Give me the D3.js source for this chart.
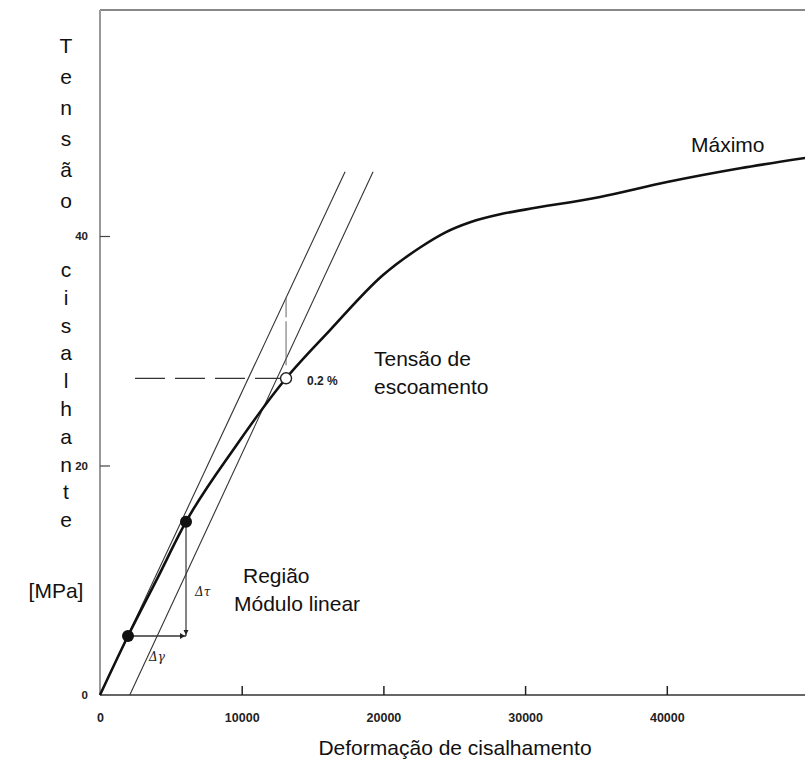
<!DOCTYPE html>
<html><head><meta charset="utf-8">
<script src="https://cdn.jsdelivr.net/npm/d3@7"></script>
<style>body{margin:0;background:#fff}svg{display:block}</style>
</head><body>
<svg id="c" width="805" height="760"></svg>
<script>
// ---- data ----
const xTicks = [0, 10000, 20000, 30000, 40000];
const yTicks = [0, 20, 40];
const curveX = [0, 1976, 4020, 6070, 9530, 13130, 16235, 19975, 22590, 24350, 26120, 28235, 30000, 35290, 40020, 45175, 49760];
const curveY = [0, 5.14, 10.1, 15.1, 21.6, 27.6, 31.8, 36.6, 39.0, 40.3, 41.2, 41.9, 42.3, 43.4, 44.7, 45.9, 46.8];
const tangentX = [0, 17295];
const tangentY = [0, 45.6];
const offsetX = [2100, 19270];
const offsetY = [0, 45.6];
const dotsX = [1976, 6070];
const dotsY = [5.14, 15.1];
const yieldPt = [13130, 27.6];
const yieldLineStartX = 2470;
const word1 = ["T","e","n","s","ã","o"];
const word2 = ["c","i","s","a","l","h","a","n","t","e"];

const svg = d3.select("#c");
const x = d3.scaleLinear().domain([0, 50000]).range([100, 808.5]);
const y = d3.scaleLinear().domain([0, 40]).range([695, 236]);
const plotTop = 10;
const FONT = "Liberation Sans, Arial, sans-serif";

// frame
svg.append("line").attr("x1",100).attr("x2",805).attr("y1",plotTop).attr("y2",plotTop)
  .attr("stroke","#888").attr("stroke-width",2);
svg.append("line").attr("x1",100).attr("x2",100).attr("y1",plotTop).attr("y2",y(0))
  .attr("stroke","#999").attr("stroke-width",2);

// x axis
const xa = svg.append("g").attr("transform",`translate(0,${y(0)})`)
  .call(d3.axisBottom(x).tickValues(xTicks).tickSize(-9).tickPadding(18).tickFormat(d3.format("d")));
xa.select(".domain").attr("stroke","#333").attr("stroke-width",1.6).attr("d",`M100,0H805`);
xa.selectAll(".tick line").attr("stroke","#222").attr("stroke-width",1.5);
xa.selectAll(".tick").filter(d=>d===0).select("line").remove();
xa.selectAll(".tick text").attr("font-family",FONT)
  .attr("font-size",12.5).attr("font-weight","bold").attr("fill","#222");

// y axis
const ya = svg.append("g").attr("transform",`translate(100,0)`)
  .call(d3.axisRight(y).tickValues(yTicks).tickSize(10).tickFormat(d3.format("d")));
ya.select(".domain").remove();
ya.selectAll(".tick line").attr("stroke","#444").attr("stroke-width",1.2);
ya.selectAll(".tick").filter(d=>d===0).select("line").remove();
ya.selectAll(".tick text").attr("text-anchor","end").attr("x",-12)
  .attr("font-family",FONT)
  .attr("font-size",11.5).attr("font-weight","bold").attr("fill","#222");

// tangent lines
const lineGen = d3.line().x(d=>x(d[0])).y(d=>y(d[1]));
svg.append("path").attr("d", lineGen(d3.zip(tangentX, tangentY)))
  .attr("stroke","#333").attr("stroke-width",1.1).attr("fill","none");
svg.append("path").attr("d", lineGen(d3.zip(offsetX, offsetY)))
  .attr("stroke","#333").attr("stroke-width",1.1).attr("fill","none");

// dashed yield line
svg.append("line").attr("x1",x(yieldLineStartX)).attr("x2",x(yieldPt[0])-5)
  .attr("y1",y(yieldPt[1])).attr("y2",y(yieldPt[1]))
  .attr("stroke","#333").attr("stroke-width",1.2).attr("stroke-dasharray","30,10");
svg.append("line").attr("x1",x(yieldPt[0])).attr("x2",x(yieldPt[0]))
  .attr("y1",y(yieldPt[1])-81).attr("y2",y(yieldPt[1])-12)
  .attr("stroke","#666").attr("stroke-width",1).attr("stroke-dasharray","20,4,44");

// main curve
const curveGen = d3.line().x(d=>x(d[0])).y(d=>y(d[1])).curve(d3.curveMonotoneX);
svg.append("path").attr("d", curveGen(d3.zip(curveX, curveY)))
  .attr("stroke","#111").attr("stroke-width",2.6).attr("fill","none");

// delta lines
svg.append("line").attr("x1",x(dotsX[1])).attr("x2",x(dotsX[1]))
  .attr("y1",y(dotsY[1])).attr("y2",y(dotsY[0]))
  .attr("stroke","#333").attr("stroke-width",1.2);
svg.append("line").attr("x1",x(dotsX[0])).attr("x2",x(dotsX[1]))
  .attr("y1",y(dotsY[0])).attr("y2",y(dotsY[0]))
  .attr("stroke","#333").attr("stroke-width",1.4);
const ax = x(dotsX[1]), ay = y(dotsY[0]);
svg.append("path").attr("d",`M${ax-6},${ay-3}L${ax-1},${ay}L${ax-6},${ay+3}Z`).attr("fill","#222");
svg.append("path").attr("d",`M${ax-2.5},${ay-6}L${ax},${ay-1}L${ax+2.5},${ay-6}Z`).attr("fill","#222");

// dots
svg.selectAll(".dot").data(d3.zip(dotsX, dotsY)).join("circle")
  .attr("cx",d=>x(d[0])).attr("cy",d=>y(d[1])).attr("r",6).attr("fill","#111");
svg.append("circle").attr("cx",x(yieldPt[0])).attr("cy",y(yieldPt[1])).attr("r",5.5)
  .attr("fill","#fff").attr("stroke","#222").attr("stroke-width",1.4);

// small labels
svg.append("text").attr("x",x(yieldPt[0])+21).attr("y",y(yieldPt[1])+7)
  .attr("font-family",FONT).attr("font-size",12).attr("font-weight","bold")
  .attr("fill","#222").text("0.2 %");
svg.append("text").attr("x",x(dotsX[1])+9).attr("y",y(dotsY[1])+74)
  .attr("font-family","DejaVu Serif, serif").attr("font-size",12).attr("font-style","italic")
  .attr("fill","#222").text("Δτ");
svg.append("text").attr("x",x(dotsX[0])+21).attr("y",y(dotsY[0])+25)
  .attr("font-family","DejaVu Serif, serif").attr("font-size",12).attr("font-style","italic")
  .attr("fill","#222").text("Δγ");

// annotations
const ann = (t, px, py) => svg.append("text").attr("x",px).attr("y",py)
  .attr("font-family",FONT).attr("font-size",21).attr("fill","#111").text(t);
ann("Máximo", 691, 152);
ann("Tensão de", 374, 366);
ann("escoamento", 374, 394);
ann("Região", 243, 583);
ann("Módulo linear", 234, 611);

// axis titles
svg.append("text").attr("x",455).attr("y",755).attr("text-anchor","middle")
  .attr("font-family",FONT).attr("font-size",21).attr("fill","#111")
  .text("Deformação de cisalhamento");
word1.forEach((ch,i)=>{
  svg.append("text").attr("x",66).attr("y",53 + i*31).attr("text-anchor","middle")
    .attr("font-family",FONT).attr("font-size",21).attr("fill","#111").text(ch);
});
word2.forEach((ch,i)=>{
  svg.append("text").attr("x",66).attr("y",277 + i*27.8).attr("text-anchor","middle")
    .attr("font-family",FONT).attr("font-size",21).attr("fill","#111").text(ch);
});
svg.append("text").attr("x",56).attr("y",598).attr("text-anchor","middle")
  .attr("font-family",FONT).attr("font-size",21).attr("fill","#111").text("[MPa]");
</script>
</body></html>
